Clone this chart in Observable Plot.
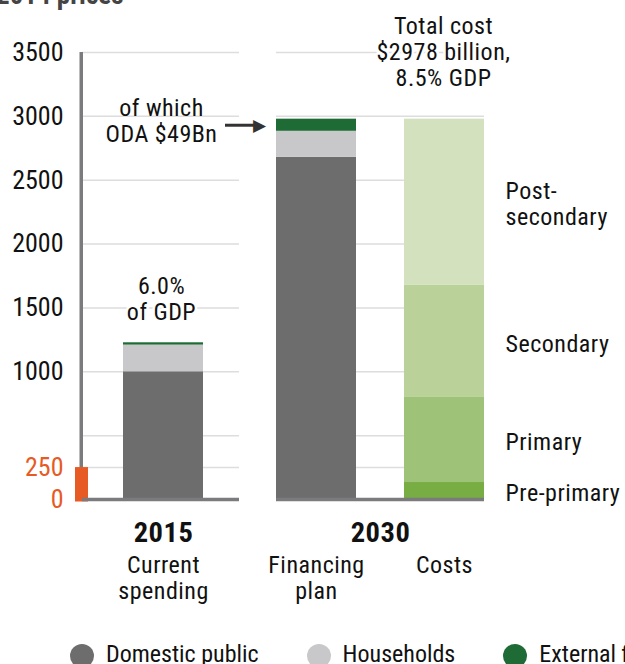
<!DOCTYPE html>
<html>
<head>
<meta charset="utf-8">
<script src="https://cdn.jsdelivr.net/npm/d3@7"></script>
<script src="https://cdn.jsdelivr.net/npm/@observablehq/plot@0.6"></script>
<style>
  html, body { margin: 0; padding: 0; background: #fff; }
  #wrap { position: relative; width: 625px; height: 664px; overflow: hidden; background: #fff; }
  #charts { display: flex; flex-direction: row; }
  #charts svg { overflow: visible; }
  #charts svg g[aria-label="text"] text { letter-spacing: 0.5px; }
  #subtitle { position: absolute; left: -4px; top: -21px; font-weight: bold; font-size: 27px; color: #444; white-space: nowrap; }
  #legend { display: flex; flex-direction: row; align-items: center; gap: 48px; padding-left: 70px; margin-top: 15px; white-space: nowrap; }
  .item { display: flex; align-items: center; gap: 12px; font-size: 24px; color: #111; }
  .sw { width: 24px; height: 24px; border-radius: 50%; flex: none; margin-top: 3px; }
</style>
</head>
<body>
<div id="wrap">
  <div id="subtitle"></div>
  <div id="charts"></div>
  <div id="legend"></div>
</div>
<script>
// ---------------- data ----------------
const subtitle = "2014 prices";
const years = ["2015", "2030"];
const categories2015 = ["Current spending"];
const categories2030 = ["Financing plan", "Costs"];
const sources = ["Domestic public", "Households", "External financing"];
const spending2015 = [1000, 209, 18];      // US$ billion, by source
const financing2030 = [2680, 203, 95];     // US$ billion, by source
const levels = ["Pre-primary", "Primary", "Secondary", "Post-secondary"];
const levelLabels = ["Pre-primary", "Primary", "Secondary", "Post-\nsecondary"];
const costs2030 = [133, 666, 881, 1298];   // US$ billion, by level
const yTickValues = [0, 250, 1000, 1500, 2000, 2500, 3000, 3500];
const gridValues = [250, 500, 1000, 1500, 2000, 2500, 3000, 3500];
const markerValue = 250;
const odaBillion = 49;
const gdpShare2015 = "6.0%";
const gdpShare2030 = "8.5%";
const totalCost2030 = 2978;

// ---------------- styling ----------------
const FONT = "'Roboto Condensed','Liberation Sans Narrow','Arial Narrow','DejaVu Sans Condensed',Roboto,sans-serif";
const sourceColors = ["#6d6d6d", "#c8c8ca", "#1e6b36"];
const levelColors = ["#77ad43", "#9fc279", "#bad29a", "#d3e1be"];
const colorScale = {domain: [...sources, ...levels], range: [...sourceColors, ...levelColors]};
const AXIS = "#7b7b7d", GRID = "#dddddd", ORANGE = "#e85a24", INK = "#111";
const H = 625, MT = 52, MB = 126;
const WA = 258, WB = 625 - WA;
const A_LEFT = 82, A_RIGHT = 239, B_LEFT = 276, B_RIGHT = 484;
const frameA = A_RIGHT - A_LEFT;
const FS = 24, FSB = 28.5;
const LH = 26 / FS;

document.getElementById("subtitle").textContent = subtitle;
document.getElementById("wrap").style.fontFamily = FONT;

// ---------------- tables ----------------
const barsA = sources.map((s, i) => ({category: categories2015[0], group: s, value: spending2015[i]}));
const barsFin = sources.map((s, i) => ({category: categories2030[0], group: s, value: financing2030[i]}));
const barsCost = levels.map((l, i) => ({category: categories2030[1], group: l, label: levelLabels[i], value: costs2030[i]}));
const barsB = [...barsFin, ...barsCost];
const total2015 = d3.sum(spending2015);
const odaMid = financing2030[0] + financing2030[1] + financing2030[2] / 2;

// ---------------- panel 2015 ----------------
const plotA = Plot.plot({
  width: WA, height: H,
  marginLeft: A_LEFT, marginRight: WA - A_RIGHT, marginTop: MT, marginBottom: MB,
  style: {fontFamily: FONT, overflow: "visible", background: "transparent", color: INK},
  x: {domain: categories2015, paddingInner: 0, paddingOuter: 0.48, align: 0.53, axis: null},
  y: {domain: [0, 3500]},
  color: colorScale,
  marks: [
    Plot.ruleY(gridValues, {stroke: GRID, strokeWidth: 1.5}),
    Plot.barY(barsA, {x: "category", y: "value", fill: "group"}),
    Plot.rect([3500], {y1: 0, y2: d => d, fill: AXIS, insetLeft: -2.5, insetRight: frameA - 1}),
    Plot.rect([markerValue], {y1: 0, y2: d => d, fill: ORANGE, insetLeft: -7, insetRight: frameA - 6, insetBottom: -2.5}),
    Plot.ruleY([0], {stroke: AXIS, strokeWidth: 3.5}),
    Plot.axisY(yTickValues.filter(d => d > markerValue), {tickSize: 0, tickPadding: 19, fontSize: 26, tickFormat: "d", label: null, color: INK}),
    Plot.axisY(yTickValues.filter(d => d <= markerValue), {tickSize: 0, tickPadding: 19, fontSize: 26, tickFormat: "d", label: null, color: ORANGE}),
    Plot.text([total2015], {x: () => categories2015[0], y: d => d, text: () => `${gdpShare2015}\nof GDP`,
      lineAnchor: "bottom", dy: -23, dx: -2, fontSize: FS, lineHeight: LH, fill: INK, stroke: "white", strokeWidth: 5, paintOrder: "stroke"}),
    Plot.text([odaMid], {x: () => categories2015[0], y: d => d, text: () => `of which\nODA $${odaBillion}Bn`,
      lineAnchor: "middle", dy: -4.5, dx: -2, fontSize: FS, lineHeight: LH, fill: INK}),
    Plot.ruleY([odaMid], {stroke: "#333", strokeWidth: 3, insetLeft: 225 - A_LEFT, insetRight: A_RIGHT - 254}),
    Plot.text([odaMid], {y: d => d, frameAnchor: "right", text: () => "\u25B6", textAnchor: "end", dx: 266 - A_RIGHT, dy: 0, fontSize: 17, fill: "#333", fontFamily: "DejaVu Sans"}),
    Plot.text([years[0]], {frameAnchor: "bottom", x: () => categories2015[0], text: d => d, lineAnchor: "top", dy: 22, fontSize: FSB, fontWeight: "bold", fill: INK}),
    Plot.text(categories2015, {x: d => d, frameAnchor: "bottom", text: d => d.replace(" ", "\n"), lineAnchor: "top", dy: 55, fontSize: FS, lineHeight: LH, fill: INK})
  ]
});

// ---------------- panel 2030 ----------------
const plotB = Plot.plot({
  width: WB, height: H,
  marginLeft: B_LEFT - WA, marginRight: WB - (B_RIGHT - WA), marginTop: MT, marginBottom: MB,
  style: {fontFamily: FONT, overflow: "visible", background: "transparent", color: INK},
  x: {domain: categories2030, paddingInner: 0.375, paddingOuter: 0, axis: null},
  y: {domain: [0, 3500], axis: null},
  color: colorScale,
  marks: [
    Plot.ruleY(gridValues, {stroke: GRID, strokeWidth: 1.5}),
    Plot.barY(barsB, {x: "category", y: "value", fill: "group"}),
    Plot.ruleY([0], {stroke: AXIS, strokeWidth: 3.5}),
    Plot.text([totalCost2030], {x: () => categories2030[1], y: d => d,
      text: d => `Total cost\n$${d} billion,\n${gdpShare2030} GDP`,
      lineAnchor: "bottom", dy: -33, dx: -1, fontSize: FS, lineHeight: LH, fill: INK, stroke: "white", strokeWidth: 5, paintOrder: "stroke"}),
    Plot.text(barsCost, Plot.stackY({x: "category", y: "value", text: "label", textAnchor: "start", dx: 61, dy: 2,
      lineAnchor: "middle", fontSize: FS, lineHeight: LH, fill: INK})),
    Plot.text([years[1]], {frameAnchor: "bottom", text: d => d, lineAnchor: "top", dy: 22, fontSize: FSB, fontWeight: "bold", fill: INK}),
    Plot.text(categories2030, {x: d => d, frameAnchor: "bottom", text: d => d.replace(" ", "\n"), lineAnchor: "top", dy: 55, fontSize: FS, lineHeight: LH, fill: INK})
  ]
});

document.getElementById("charts").append(plotA, plotB);

// ---------------- legend ----------------
const legend = d3.select("#legend");
sources.forEach((s, i) => {
  const it = legend.append("div").attr("class", "item");
  it.append("div").attr("class", "sw").style("background", sourceColors[i]);
  it.append("span").text(s);
});
</script>
</body>
</html>
